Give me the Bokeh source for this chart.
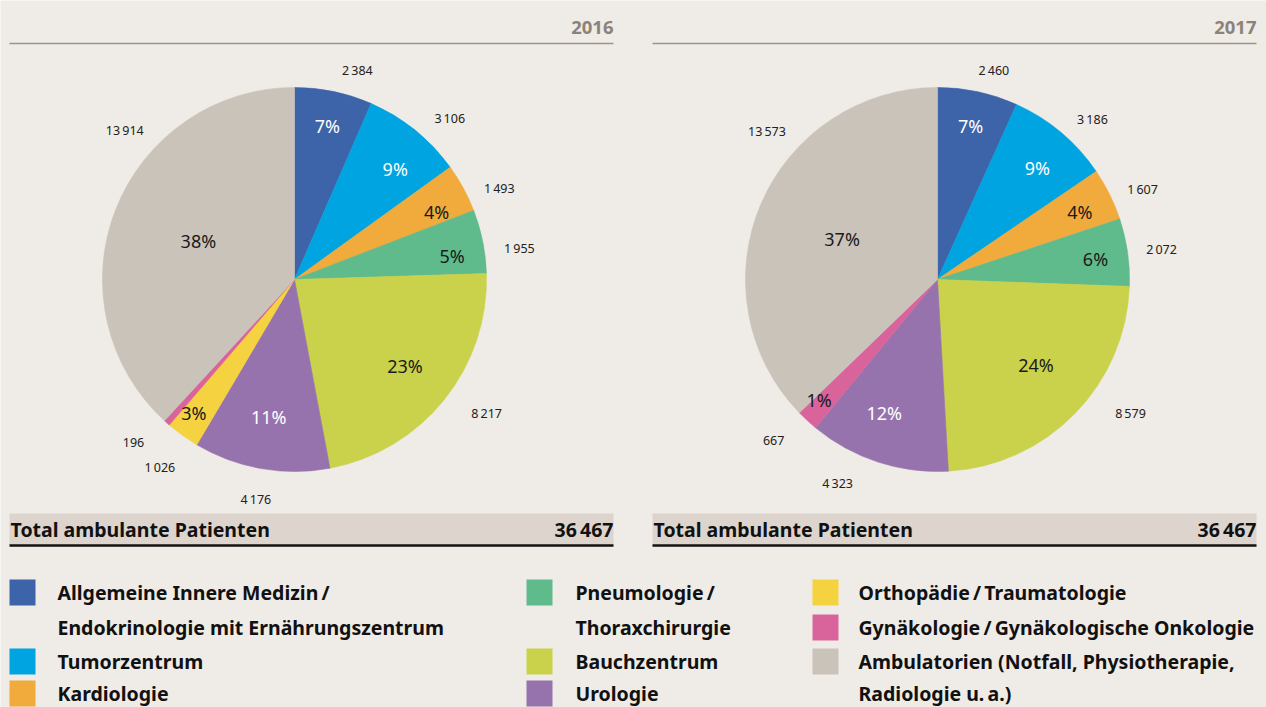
import numpy as np
from bokeh.plotting import figure
from bokeh.models import Range1d
from bokeh.embed import file_html
from bokeh.resources import INLINE
from bokeh.core.properties import value

# ---------------- data ----------------
years = ["2016", "2017"]
categories = [
    "Allgemeine Innere Medizin / Endokrinologie mit Ernährungszentrum",
    "Tumorzentrum",
    "Kardiologie",
    "Pneumologie / Thoraxchirurgie",
    "Bauchzentrum",
    "Urologie",
    "Orthopädie / Traumatologie",
    "Gynäkologie / Gynäkologische Onkologie",
    "Ambulatorien (Notfall, Physiotherapie, Radiologie u. a.)",
]
legend_lines = [
    ["Allgemeine Innere Medizin\u2009/", "Endokrinologie mit Ernährungszentrum"],
    ["Tumorzentrum"],
    ["Kardiologie"],
    ["Pneumologie\u2009/", "Thoraxchirurgie"],
    ["Bauchzentrum"],
    ["Urologie"],
    ["Orthopädie\u2009/\u2009Traumatologie"],
    ["Gynäkologie\u2009/\u2009Gynäkologische Onkologie"],
    ["Ambulatorien (Notfall, Physiotherapie,", "Radiologie u.\u2009a.)"],
]
values_2016 = [2384, 3106, 1493, 1955, 8217, 4176, 1026, 196, 13914]
values_2017 = [2460, 3186, 1607, 2072, 8579, 4323, 0, 667, 13573]
pct_2016 = ["7%", "9%", "4%", "5%", "23%", "11%", "3%", "", "38%"]
pct_2017 = ["7%", "9%", "4%", "6%", "24%", "12%", "", "1%", "37%"]
totals = [36467, 36467]
total_label = "Total ambulante Patienten"
colors = ["#3d64a9", "#00a4e0", "#f0ab3c", "#5fba8c", "#c9d24a",
          "#9773ae", "#f5d23f", "#d9649b", "#cac3b9"]
pct_colors = ["white", "white", "#1a1a1a", "#1a1a1a", "#1a1a1a",
              "white", "#1a1a1a", "#1a1a1a", "#1a1a1a"]

# ---------------- layout ----------------
W, H = 1266, 707
BG = "#efebe6"


def X(px):
    return px


def Y(py):
    return H - py


pie_cx = [294, 937]
pie_cy = 279
R = 192
panel_left = [9, 652]
panel_right = [613, 1256]
pct_r = [[0.82, 0.78, 0.82, 0.83, 0.73, 0.73, 0.87, 0, 0.54],
         [0.82, 0.78, 0.82, 0.83, 0.68, 0.75, 0, 0.88, 0.54]]
pct_off = [[0.3, 3.4, 3, 3, -0.8, 0.6, 1.4, 0, 0.7],
           [0, 1.8, 1, 0.6, -3.4, 3.6, 0, 1.8, 0]]
val_r = [[218, 224, 224, 227, 234, 223, 231, 229, 226],
         [216, 223, 224, 226, 235, 227, 0, 230, 226]]
val_off = [[5, 5, 4.5, 3.5, -4, 0, 0, 3, 20],
           [3, 4, 2.6, 0.6, -9.6, 8, 0, 2.7, 18]]

FONT = value("Noto Sans")
BOLD_SIZE = "19.5px"


def fmt(n):
    s = f"{n:,}"
    return s.replace(",", "\u2009")


p = figure(width=W, height=H, output_backend="svg", toolbar_location=None,
           x_range=Range1d(0, W), y_range=Range1d(0, H), min_border=0,
           background_fill_color=BG, border_fill_color=BG, outline_line_color=None)
p.axis.visible = False
p.grid.visible = False

all_values = [values_2016, values_2017]
all_pct = [pct_2016, pct_2017]

for k in range(2):
    vals = np.array(all_values[k], dtype=float)
    tot = vals.sum()
    cum = np.concatenate([[0], np.cumsum(vals)]) / tot
    start = np.pi / 2 - cum[:-1] * 2 * np.pi
    end = np.pi / 2 - cum[1:] * 2 * np.pi
    keep = vals > 0
    n = int(keep.sum())
    kc = [c for c, kk in zip(colors, keep) if kk]
    p.wedge(x=[X(pie_cx[k])] * n, y=[Y(pie_cy)] * n,
            radius=R, start_angle=list(start[keep]), end_angle=list(end[keep]),
            direction="clock", fill_color=kc, line_color=kc, line_width=0.6)

    mid = (cum[:-1] + cum[1:]) / 2 * 360.0
    # percent labels
    px, py, pt, pc = [], [], [], []
    for i in range(len(vals)):
        if all_pct[k][i] == "":
            continue
        th = np.radians(mid[i] + pct_off[k][i])
        r = pct_r[k][i] * R
        px.append(X(pie_cx[k]) + r * np.sin(th))
        py.append(Y(pie_cy) + r * np.cos(th))
        pt.append(all_pct[k][i])
        pc.append(pct_colors[i])
    p.text(x=px, y=py, text=pt, text_color=pc, text_align="center",
           text_baseline="middle", text_font=FONT, text_font_size="18px")

    # value labels
    vx, vy, vt = [], [], []
    for i in range(len(vals)):
        if vals[i] <= 0:
            continue
        th = np.radians(mid[i] + val_off[k][i])
        r = val_r[k][i]
        vx.append(X(pie_cx[k]) + r * np.sin(th))
        vy.append(Y(pie_cy) + r * np.cos(th))
        vt.append(fmt(int(vals[i])))
    p.text(x=vx, y=vy, text=vt, text_color="#222222", text_align="center",
           text_baseline="middle", text_font=FONT, text_font_size="12.5px")

    # header
    p.text(x=[X(panel_right[k])], y=[Y(27)], text=[years[k]], text_color="#8d8278",
           text_align="right", text_baseline="middle", text_font=FONT,
           text_font_size="18.5px", text_font_style="bold")
    p.segment(x0=[X(panel_left[k])], y0=[Y(43)], x1=[X(panel_right[k])], y1=[Y(43)],
              line_color="#9d9389", line_width=1.6)

    # total bar
    p.quad(left=[X(panel_left[k])], right=[X(panel_right[k])], top=[Y(513)],
           bottom=[Y(544)], fill_color="#dcd4cd", line_color=None)
    p.segment(x0=[X(panel_left[k])], y0=[Y(545)], x1=[X(panel_right[k])], y1=[Y(545)],
              line_color="#111111", line_width=2.5)
    p.text(x=[X(panel_left[k] + 1)], y=[Y(529)], text=[total_label], text_color="#111111",
           text_align="left", text_baseline="middle", text_font=FONT,
           text_font_size=BOLD_SIZE, text_font_style="bold")
    p.text(x=[X(panel_right[k])], y=[Y(529)], text=[fmt(totals[k])], text_color="#111111",
           text_align="right", text_baseline="middle", text_font=FONT,
           text_font_size=BOLD_SIZE, text_font_style="bold")

# legend
sq_left = [9, 526, 812]
txt_left = [57, 575, 858]
row_y = [592, 627, 661, 693]
col_of = [0, 0, 0, 1, 1, 1, 2, 2, 2]
row_used = [0, 0, 0]
lx0, lx1, ly0, ly1, lc = [], [], [], [], []
tx, ty, tt = [], [], []
for i, lines in enumerate(legend_lines):
    c = col_of[i]
    r0 = row_used[c]
    lx0.append(X(sq_left[c]))
    lx1.append(X(sq_left[c] + 26))
    ly0.append(Y(row_y[r0] - 13))
    ly1.append(Y(row_y[r0] + 13))
    lc.append(colors[i])
    for j, ln in enumerate(lines):
        tx.append(X(txt_left[c]))
        ty.append(Y(row_y[r0 + j]))
        tt.append(ln)
    row_used[c] += len(lines)
p.quad(left=lx0, right=lx1, top=ly0, bottom=ly1, fill_color=lc, line_color=None)
p.text(x=tx, y=ty, text=tt, text_color="#111111", text_align="left",
       text_baseline="middle", text_font=FONT, text_font_size=BOLD_SIZE,
       text_font_style="bold")

open("out.html", "w").write(file_html(p, INLINE))
